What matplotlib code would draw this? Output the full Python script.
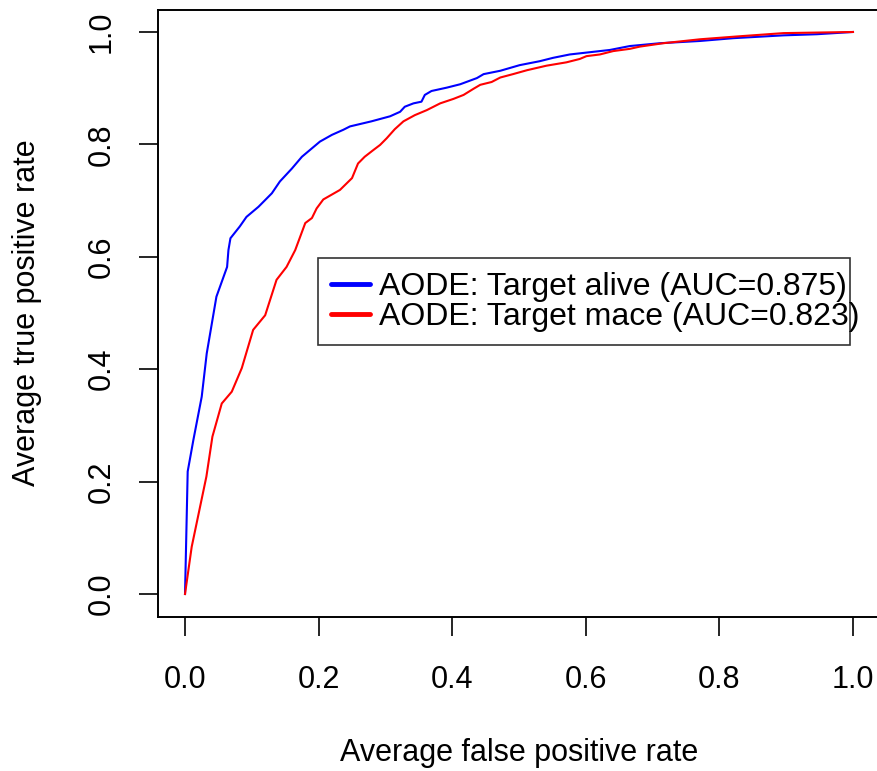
import matplotlib
matplotlib.use("Agg")
import matplotlib.pyplot as plt

plt.rcParams['font.family'] = ['Liberation Sans', 'DejaVu Sans']

alive_fpr = [0.0, 0.004, 0.0125, 0.025, 0.0325, 0.047, 0.063, 0.065, 0.068, 0.082, 0.092,
             0.11, 0.13, 0.142, 0.16, 0.175, 0.187, 0.202, 0.22, 0.237, 0.247, 0.279, 0.307,
             0.322, 0.329, 0.342, 0.354, 0.359, 0.369, 0.392, 0.412, 0.437, 0.447, 0.472,
             0.501, 0.531, 0.551, 0.576, 0.606, 0.636, 0.666, 0.711, 0.771, 0.821, 0.896,
             0.946, 1.0]
alive_tpr = [0.0, 0.218, 0.274, 0.351, 0.428, 0.529, 0.582, 0.612, 0.633, 0.654, 0.671,
             0.689, 0.713, 0.734, 0.757, 0.778, 0.79, 0.805, 0.817, 0.826, 0.832, 0.841, 0.85,
             0.858, 0.867, 0.873, 0.876, 0.888, 0.895, 0.901, 0.907, 0.918, 0.925, 0.931,
             0.941, 0.948, 0.954, 0.96, 0.964, 0.968, 0.975, 0.98, 0.984, 0.989, 0.994,
             0.996, 1.0]

mace_fpr = [0.0, 0.01, 0.032, 0.041, 0.055, 0.07, 0.085, 0.102, 0.12, 0.137, 0.152, 0.165,
            0.18, 0.19, 0.197, 0.207, 0.232, 0.25, 0.259, 0.269, 0.282, 0.292, 0.302, 0.314,
            0.327, 0.344, 0.362, 0.382, 0.402, 0.417, 0.432, 0.442, 0.459, 0.472, 0.491,
            0.512, 0.541, 0.571, 0.591, 0.601, 0.621, 0.641, 0.666, 0.681, 0.716, 0.771,
            0.826, 0.896, 1.0]
mace_tpr = [0.0, 0.084, 0.209, 0.28, 0.339, 0.36, 0.402, 0.47, 0.496, 0.559, 0.582, 0.612,
            0.66, 0.669, 0.686, 0.702, 0.719, 0.74, 0.766, 0.778, 0.79, 0.799, 0.811, 0.827,
            0.841, 0.852, 0.861, 0.873, 0.881, 0.888, 0.899, 0.906, 0.911, 0.919, 0.925,
            0.932, 0.94, 0.946, 0.952, 0.957, 0.96, 0.966, 0.97, 0.974, 0.98, 0.987,
            0.992, 0.998, 1.0]

labels = ["AODE: Target alive (AUC=0.875)", "AODE: Target mace (AUC=0.823)"]
ticks = [0.0, 0.2, 0.4, 0.6, 0.8, 1.0]
tick_labels = ["0.0", "0.2", "0.4", "0.6", "0.8", "1.0"]

FS = 22

fig = plt.figure(figsize=(8.78, 7.71), dpi=100)
ax = fig.add_axes([158.3 / 878, 1 - 616.5 / 771, 721.4 / 878, 607.0 / 771])

ax.plot(alive_fpr, alive_tpr, color='#0000FF', lw=1.5, label=labels[0])
ax.plot(mace_fpr, mace_tpr, color='#FF0000', lw=1.5, label=labels[1])

ax.set_xlim(-0.04, 1.04)
ax.set_ylim(-0.04, 1.04)
ax.set_xticks(ticks)
ax.set_xticklabels(tick_labels)
ax.set_yticks(ticks)
ax.set_yticklabels(tick_labels, rotation=90, va='center')
ax.tick_params(direction='out', length=14, width=1.2, labelsize=FS, pad=21, color='black')
ax.tick_params(axis='y', pad=16)
for s in ax.spines.values():
    s.set_linewidth(1.4)
    s.set_color('black')

ax.set_xlabel("Average false positive rate", fontsize=FS, labelpad=31)
ax.set_ylabel("Average true positive rate", fontsize=FS, labelpad=32)

leg = ax.legend(loc='lower left', bbox_to_anchor=(0.2214, 0.447, 0.7376, 0.147),
                mode='expand', fontsize=23, frameon=True, fancybox=False,
                edgecolor='black', handlelength=1.2, handletextpad=0.3,
                borderaxespad=0, labelspacing=0.0, borderpad=0.42)
leg.get_frame().set_linewidth(1.2)
for h in leg.get_lines():
    h.set_linewidth(3.5)
    h.set_solid_capstyle('round')

fig.savefig("out.png", dpi=100)
